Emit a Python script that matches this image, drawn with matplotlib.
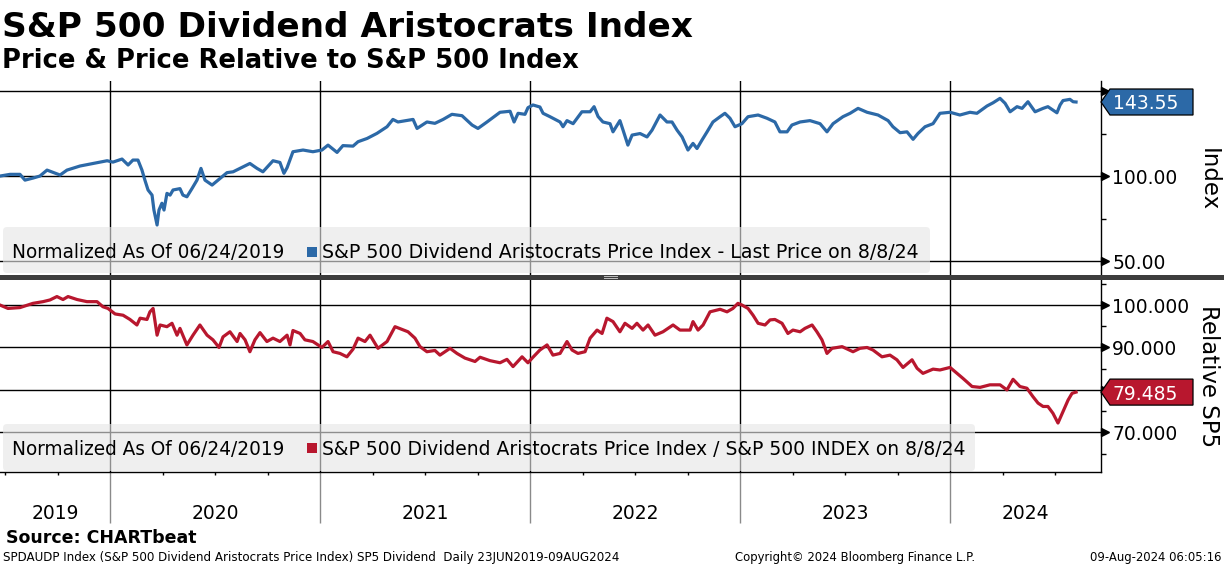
import matplotlib
matplotlib.use("Agg")
import matplotlib.pyplot as plt
import matplotlib.transforms as mtrans
from matplotlib.patches import Rectangle, FancyBboxPatch, Polygon

# ---------------- data (decimal years) ----------------
price_t = [2019.476, 2019.524, 2019.571, 2019.595, 2019.633, 2019.666, 2019.700, 2019.762, 2019.795, 2019.857,
           2019.919, 2019.986, 2020.014, 2020.057, 2020.086, 2020.109, 2020.133, 2020.152, 2020.166, 2020.181,
           2020.200, 2020.209, 2020.224, 2020.233, 2020.247, 2020.257, 2020.271, 2020.286, 2020.300, 2020.333,
           2020.347, 2020.366, 2020.390, 2020.414, 2020.433, 2020.452, 2020.486, 2020.514, 2020.557, 2020.586,
           2020.619, 2020.666, 2020.700, 2020.728, 2020.776, 2020.809, 2020.828, 2020.843, 2020.871, 2020.919,
           2020.966, 2021.009, 2021.038, 2021.081, 2021.109, 2021.157, 2021.181, 2021.224, 2021.271, 2021.319,
           2021.347, 2021.371, 2021.443, 2021.462, 2021.509, 2021.547, 2021.586, 2021.628, 2021.676, 2021.724,
           2021.752, 2021.795, 2021.857, 2021.905, 2021.924, 2021.943, 2021.976, 2021.990, 2022.014, 2022.047,
           2022.062, 2022.095, 2022.143, 2022.157, 2022.176, 2022.205, 2022.247, 2022.286, 2022.305, 2022.324,
           2022.347, 2022.381, 2022.395, 2022.428, 2022.443, 2022.466, 2022.486, 2022.524, 2022.557, 2022.581,
           2022.619, 2022.652, 2022.676, 2022.700, 2022.724, 2022.752, 2022.776, 2022.795, 2022.819, 2022.843,
           2022.871, 2022.905, 2022.928, 2022.952, 2022.976, 2023.009, 2023.038, 2023.086, 2023.128, 2023.166,
           2023.190, 2023.224, 2023.247, 2023.286, 2023.333, 2023.381, 2023.414, 2023.443, 2023.490, 2023.524,
           2023.562, 2023.605, 2023.657, 2023.705, 2023.728, 2023.762, 2023.795, 2023.824, 2023.847, 2023.881,
           2023.919, 2023.952, 2024.000, 2024.047, 2024.095, 2024.128, 2024.176, 2024.205, 2024.238, 2024.262,
           2024.286, 2024.319, 2024.343, 2024.371, 2024.405, 2024.443, 2024.466, 2024.490, 2024.509, 2024.524,
           2024.538, 2024.571, 2024.586, 2024.600]
price_v = [100.0, 101.0, 101.0, 97.6, 98.8, 100.0, 103.5, 100.6, 103.5, 105.9,
           107.4, 109.0, 108.2, 110.0, 106.5, 109.4, 109.4, 103.5, 97.6, 91.8,
           88.8, 80.0, 71.2, 80.0, 84.0, 80.0, 89.8, 88.8, 91.8, 92.6,
           88.8, 87.8, 92.6, 97.6, 104.5, 97.6, 94.7, 97.6, 102.0, 102.5,
           104.5, 107.4, 104.5, 102.5, 109.0, 108.0, 101.6, 104.9, 114.3, 115.3,
           114.3, 115.3, 118.2, 113.9, 117.9, 117.6, 120.2, 122.1, 125.1, 129.0,
           133.3, 131.8, 133.3, 128.0, 131.8, 131.0, 133.3, 136.3, 135.5, 130.0,
           128.0, 131.8, 137.5, 138.1, 131.8, 136.9, 136.3, 140.2, 141.8, 140.6,
           136.9, 134.9, 131.8, 129.0, 132.6, 130.8, 137.8, 137.8, 140.8, 135.0,
           131.8, 130.8, 126.0, 132.6, 127.0, 118.2, 124.1, 125.0, 123.0, 127.0,
           135.9, 131.8, 131.8, 127.0, 123.0, 115.3, 119.2, 116.2, 121.2, 126.0,
           131.8, 134.9, 136.9, 134.0, 129.0, 130.8, 134.9, 135.9, 134.0, 131.8,
           126.0, 126.0, 130.0, 131.8, 132.6, 130.8, 126.0, 130.8, 134.9, 136.9,
           139.8, 137.5, 135.9, 132.6, 129.0, 125.5, 126.0, 121.6, 125.0, 129.0,
           130.8, 136.9, 137.5, 135.9, 137.5, 136.9, 141.2, 143.1, 145.7, 142.8,
           137.8, 140.8, 139.8, 143.7, 137.8, 139.8, 140.8, 138.8, 137.2, 141.8,
           144.4, 145.1, 143.7, 143.55]

rel_t = [2019.476, 2019.514, 2019.571, 2019.633, 2019.681, 2019.714, 2019.747, 2019.776, 2019.800, 2019.843,
         2019.890, 2019.938, 2019.966, 2019.990, 2020.024, 2020.062, 2020.095, 2020.128, 2020.143, 2020.176,
         2020.190, 2020.205, 2020.224, 2020.238, 2020.271, 2020.295, 2020.319, 2020.333, 2020.366, 2020.395,
         2020.428, 2020.462, 2020.490, 2020.519, 2020.538, 2020.571, 2020.605, 2020.619, 2020.643, 2020.666,
         2020.690, 2020.714, 2020.747, 2020.776, 2020.809, 2020.843, 2020.857, 2020.871, 2020.905, 2020.928,
         2020.966, 2021.009, 2021.038, 2021.062, 2021.095, 2021.128, 2021.157, 2021.181, 2021.214, 2021.238,
         2021.276, 2021.319, 2021.357, 2021.419, 2021.452, 2021.476, 2021.509, 2021.547, 2021.571, 2021.619,
         2021.652, 2021.690, 2021.738, 2021.762, 2021.809, 2021.857, 2021.890, 2021.919, 2021.962, 2021.990,
         2022.014, 2022.047, 2022.081, 2022.109, 2022.143, 2022.176, 2022.200, 2022.228, 2022.262, 2022.286,
         2022.319, 2022.343, 2022.366, 2022.395, 2022.428, 2022.452, 2022.486, 2022.509, 2022.538, 2022.562,
         2022.595, 2022.633, 2022.681, 2022.714, 2022.762, 2022.776, 2022.800, 2022.824, 2022.857, 2022.905,
         2022.938, 2022.966, 2022.990, 2023.009, 2023.038, 2023.062, 2023.086, 2023.119, 2023.143, 2023.166,
         2023.200, 2023.228, 2023.252, 2023.286, 2023.309, 2023.343, 2023.366, 2023.390, 2023.414, 2023.438,
         2023.486, 2023.538, 2023.571, 2023.605, 2023.633, 2023.676, 2023.714, 2023.747, 2023.776, 2023.819,
         2023.843, 2023.871, 2023.919, 2023.952, 2024.000, 2024.024, 2024.062, 2024.105, 2024.143, 2024.190,
         2024.238, 2024.271, 2024.300, 2024.333, 2024.366, 2024.395, 2024.419, 2024.443, 2024.466, 2024.490,
         2024.514, 2024.538, 2024.562, 2024.581, 2024.600]
rel_v = [100.0, 99.2, 99.4, 100.4, 100.8, 101.2, 102.0, 101.3, 102.0, 101.3,
         100.8, 100.8, 99.6, 99.2, 97.9, 97.6, 96.6, 95.3, 96.9, 96.6,
         98.4, 99.2, 92.9, 95.3, 94.9, 95.7, 92.9, 94.5, 90.6, 92.9,
         95.3, 92.9, 91.8, 90.0, 92.5, 93.7, 91.4, 93.3, 91.8, 89.0,
         91.8, 93.5, 91.4, 92.2, 91.4, 92.9, 90.6, 94.0, 93.3, 91.8,
         91.4, 90.0, 91.4, 89.0, 88.6, 87.8, 89.6, 92.2, 91.4, 92.9,
         89.8, 91.4, 94.9, 93.7, 92.2, 90.2, 89.0, 89.3, 88.2, 89.8,
         88.6, 87.5, 86.7, 87.7, 86.9, 86.4, 87.2, 85.5, 87.8, 86.4,
         87.7, 89.4, 90.6, 88.2, 88.6, 91.4, 89.4, 88.6, 89.0, 92.2,
         94.1, 93.3, 96.9, 96.1, 93.7, 95.7, 94.5, 95.7, 94.1, 95.3,
         92.9, 93.7, 95.3, 94.1, 94.1, 96.1, 94.1, 95.3, 98.4, 99.0,
         98.4, 99.2, 100.4, 100.0, 99.2, 97.6, 95.7, 95.3, 96.5, 96.6,
         95.7, 93.3, 94.1, 93.7, 94.5, 95.3, 93.7, 91.8, 88.6, 89.8,
         90.2, 89.0, 89.8, 90.0, 89.4, 87.8, 88.2, 87.1, 85.3, 87.1,
         85.1, 83.9, 84.9, 84.7, 85.3, 84.3, 82.7, 80.8, 80.6, 81.2,
         81.2, 80.0, 82.5, 80.8, 80.4, 78.4, 76.9, 76.1, 76.1, 74.5,
         72.2, 74.9, 77.6, 79.2, 79.485]

years = [2020, 2021, 2022, 2023, 2024]
year_labels = ["2019", "2020", "2021", "2022", "2023", "2024"]
top_ticks = [50, 100, 150]
top_ticklabels = ["50.00", "100.00", ""]
bot_ticks = [70, 80, 90, 100]
bot_ticklabels = ["70.000", "", "90.000", "100.000"]
last_price = "143.55"
last_rel = "79.485"

BLUE = "#2C69A7"
RED = "#B8172E"

# ---------------- figure ----------------
W, H = 1224, 566
fig = plt.figure(figsize=(W / 100, H / 100), dpi=100)
fig.patch.set_facecolor("white")
PX = mtrans.Affine2D().scale(1 / 100.0) + fig.dpi_scale_trans  # pixel coords, origin bottom-left
renderer = fig.canvas.get_renderer()

X0 = 2019.476
X1 = X0 + 1101 / 210.0

ax1 = fig.add_axes([0, 1 - 275 / H, 1101 / W, (275 - 81) / H])
ax2 = fig.add_axes([0, 1 - 472 / H, 1101 / W, (472 - 280) / H])

ax1.plot(price_t, price_v, color=BLUE, lw=2.3, zorder=4, solid_joinstyle="round")
ax2.plot(rel_t, rel_v, color=RED, lw=2.3, zorder=4, solid_joinstyle="round")

ax1.set_ylim(41.8, 155.9)
ax2.set_ylim(60.66, 105.9)

quarters = [y + q for y in range(2019, 2025) for q in (0.25, 0.5, 0.75)]
quarters = [q for q in quarters if X0 < q < X1]

for ax, ticks, labels, minors in [
        (ax1, top_ticks, top_ticklabels, [75, 125]),
        (ax2, bot_ticks, bot_ticklabels, [65, 75, 85, 95, 105])]:
    ax.set_xlim(X0, X1)
    ax.set_facecolor("none")
    ax.set_axisbelow(True)
    ax.yaxis.tick_right()
    ax.set_yticks(ticks)
    ax.set_yticklabels(labels)
    ax.set_yticks(minors, minor=True)
    ax.tick_params(axis="y", which="major", length=0, pad=8, labelsize=13.5, labelcolor="black")
    ax.tick_params(axis="y", which="minor", length=3.5, width=1, direction="out", color="black")
    ax.set_xticks(years)
    ax.set_xticks(quarters, minor=True)
    ax.grid(True, which="major", axis="both", color="black", lw=1.0)
    for s in ("left", "top"):
        ax.spines[s].set_visible(False)
    ax.spines["right"].set_color("black")
    ax.spines["right"].set_linewidth(1.0)
    # arrow-like tick markers on the right axis
    off = mtrans.offset_copy(ax.get_yaxis_transform(), fig=fig, x=4, y=0, units="dots")
    ax.plot([1.0] * len(ticks), ticks, linestyle="none", marker=">", ms=5.5, color="black",
            transform=off, clip_on=False, zorder=6)

ax1.spines["bottom"].set_visible(False)
ax1.tick_params(axis="x", which="both", length=0, labelbottom=False)
ax2.spines["bottom"].set_color("black")
ax2.spines["bottom"].set_linewidth(1.0)
ax2.tick_params(axis="x", which="major", length=37, width=1, color="#8a8a8a", direction="out", labelbottom=False)
ax2.tick_params(axis="x", which="minor", length=2.2, width=1, color="black", direction="out")

# year labels centered in each visible year span
bounds = [X0] + years + [X1]
ytr = mtrans.blended_transform_factory(ax2.transData, PX)
for lab, a, b in zip(year_labels, bounds[:-1], bounds[1:]):
    ax2.text((a + b) / 2, H - 519, lab, transform=ytr, ha="center", va="baseline",
             fontsize=13.5, color="black", clip_on=False)


# value tags
def tag(ax, v, text, color):
    y0, y1 = ax.get_ylim()
    axh = ax.get_position().height * H
    dv = 13 * (y1 - y0) / axh
    tr = ax.get_yaxis_transform()
    xs = [1.0, 1110 / 1101, 1193 / 1101, 1193 / 1101, 1110 / 1101]
    ys = [v, v + dv, v + dv, v - dv, v - dv]
    ax.add_patch(Polygon(list(zip(xs, ys)), closed=True, transform=tr, facecolor=color,
                         edgecolor="black", lw=0.9, clip_on=False, zorder=10))
    ax.text(1113 / 1101, v, text, transform=tr, color="white", fontsize=13.5,
            ha="left", va="center_baseline", clip_on=False, zorder=11)


tag(ax1, price_v[-1], last_price, BLUE)
tag(ax2, rel_v[-1], last_rel, RED)


# legend boxes
def legend_box(ax, x0, x1, ytop, ybot, color, label, base):
    ax.add_patch(FancyBboxPatch((x0, H - ybot), x1 - x0, ybot - ytop,
                                boxstyle="round,pad=0,rounding_size=4", transform=PX,
                                facecolor="#e6e6e6", edgecolor="none", alpha=0.62,
                                clip_on=False, zorder=2))
    ax.add_patch(Rectangle((307, H - (base - 1)), 10, 10, transform=PX, facecolor=color,
                           edgecolor="none", clip_on=False, zorder=6))


legend_box(ax1, 3, 930, 227, 273, BLUE, "", 257.5)
legend_box(ax2, 3, 975, 424, 471, RED, "", 453.5)


def ptext(x, y, s, width=None, size=10.0, **kw):
    t = fig.text(x, H - y, s, transform=PX, fontsize=size, **kw)
    if width is not None:
        bb = t.get_window_extent(renderer=renderer)
        t.set_fontsize(size * width / bb.width)
    return t


ptext(12, 257.5, "Normalized As Of 06/24/2019", width=273, va="baseline", zorder=7)
ptext(322, 257.5, "S&P 500 Dividend Aristocrats Price Index - Last Price on 8/8/24", width=597,
      va="baseline", zorder=7)
ptext(12, 455, "Normalized As Of 06/24/2019", width=273, va="baseline", zorder=7)
ptext(322, 455, "S&P 500 Dividend Aristocrats Price Index / S&P 500 INDEX on 8/8/24", width=641,
      va="baseline", zorder=7)

# titles
ptext(2, 37, "S&P 500 Dividend Aristocrats Index", width=691, weight="bold", va="baseline")
ptext(2, 68, "Price & Price Relative to S&P 500 Index", width=578, weight="bold", va="baseline")

# axis names
ptext(1208, 180, "Index", size=16.5, rotation=270, ha="center", va="center")
ptext(1208, 376, "Relative SP5", size=16.5, rotation=270, ha="center", va="center")

# footer
ptext(6, 543, "Source: CHARTbeat", width=190, weight="bold", va="baseline")
ptext(3, 561, "SPDAUDP Index (S&P 500 Dividend Aristocrats Price Index) SP5 Dividend  Daily 23JUN2019-09AUG2024",
      width=617, va="baseline")
ptext(735, 561, "Copyright\u00a9 2024 Bloomberg Finance L.P.", width=240, va="baseline")
t = ptext(1221, 561, "09-Aug-2024 06:05:16", width=131, va="baseline", ha="right")

# separator bar between panels
fig.add_artist(Rectangle((0, H - 280), W, 5, transform=PX, facecolor="#3d3d3d", edgecolor="none", zorder=20))
fig.add_artist(Rectangle((604, H - 277.2), 14, 0.8, transform=PX, facecolor="#bbbbbb", edgecolor="none", zorder=21))
fig.add_artist(Rectangle((604, H - 278.8), 14, 0.8, transform=PX, facecolor="#bbbbbb", edgecolor="none", zorder=21))

fig.savefig("out.png", dpi=100, facecolor="white")
